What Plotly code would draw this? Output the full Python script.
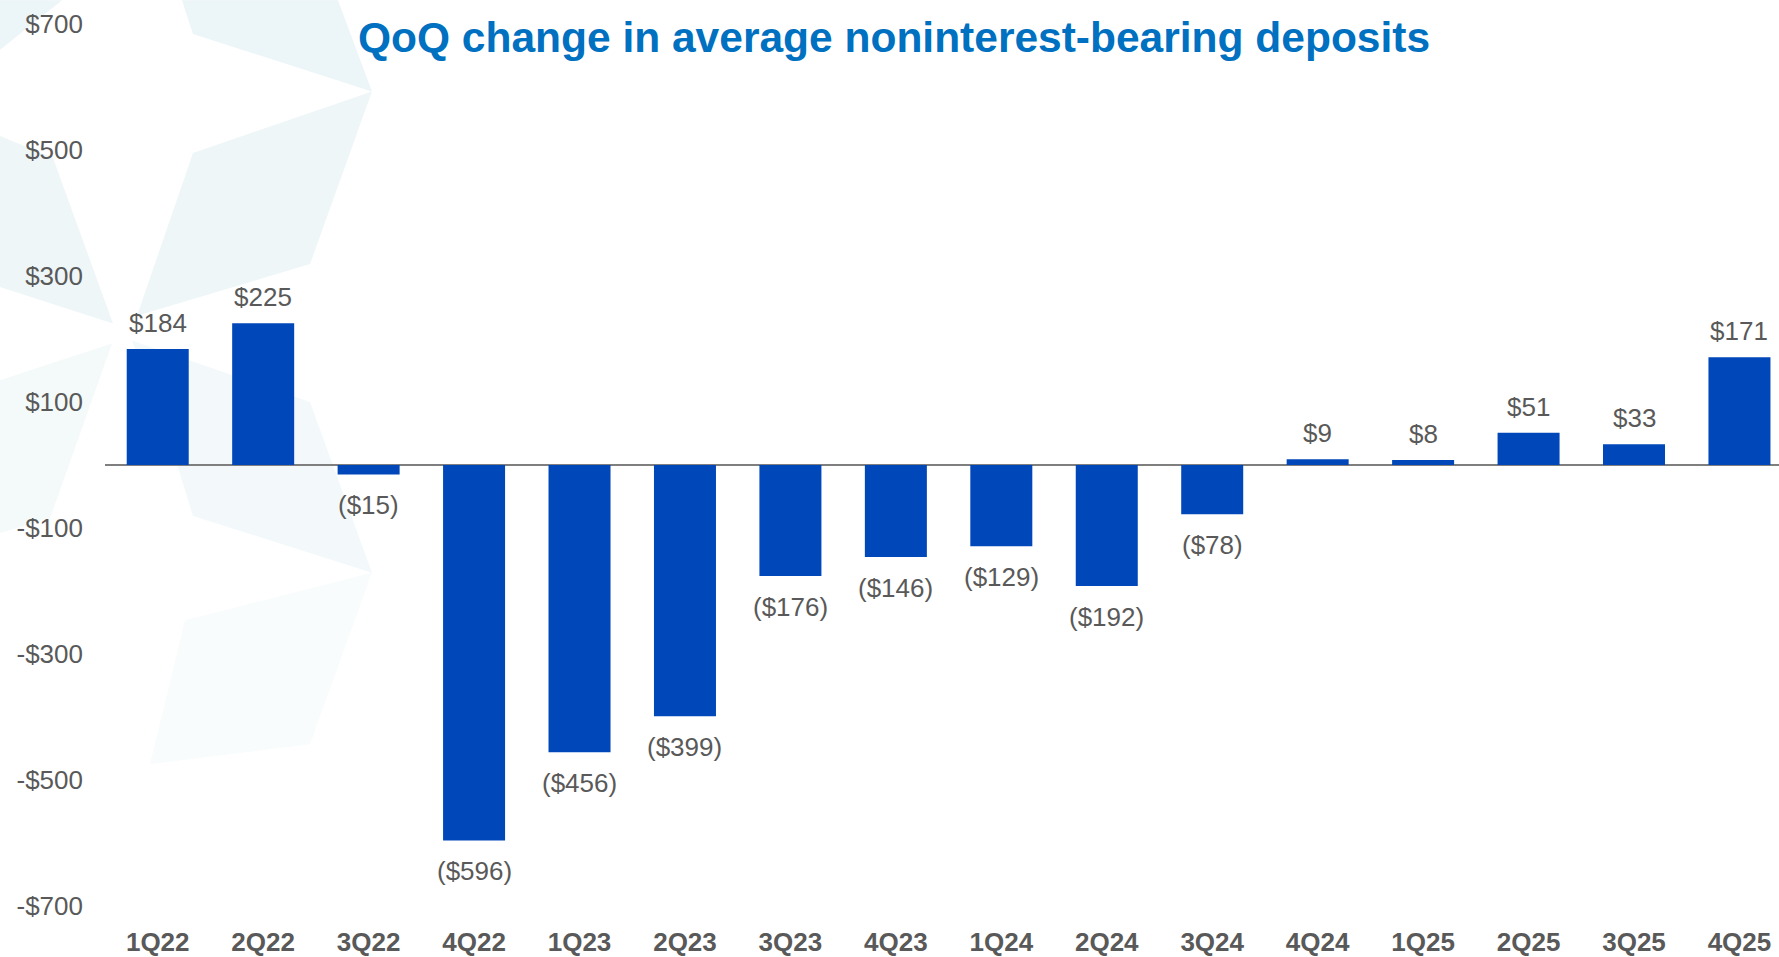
import plotly.graph_objects as go

# ---- data ----
quarters = ["1Q22", "2Q22", "3Q22", "4Q22", "1Q23", "2Q23", "3Q23", "4Q23",
            "1Q24", "2Q24", "3Q24", "4Q24", "1Q25", "2Q25", "3Q25", "4Q25"]
qoq_change = [184, 225, -15, -596, -456, -399, -176, -146,
              -129, -192, -78, 9, 8, 51, 33, 171]
y_tick_vals = [700, 500, 300, 100, -100, -300, -500, -700]
y_tick_text = ["$700", "$500", "$300", "$100", "-$100", "-$300", "-$500", "-$700"]
title_text = "QoQ change in average noninterest-bearing deposits"

# ---- styling ----
W, H = 1779, 957
ML, MR, MT, MB = 105, 0, 24, 44
BAR = "#0047BA"
GRAY = "#595959"
FONT = "Liberation Sans, Arial, sans-serif"


def label(v):
    return f"${v}" if v >= 0 else f"(${-v})"


fig = go.Figure()
fig.add_trace(go.Bar(
    x=list(range(len(quarters))), y=qoq_change,
    marker=dict(color=BAR, line=dict(width=0)),
    width=0.588, hoverinfo="skip",
))

# data labels
for i, v in enumerate(qoq_change):
    fig.add_annotation(
        x=i, y=v, xref="x", yref="y", text=label(v), showarrow=False,
        yshift=26 if v >= 0 else -31, yanchor="middle",
        font=dict(family=FONT, size=26, color=GRAY),
    )

# decorative faint star facets in the top-left (pixel coords -> paper)
pw, ph = W - ML - MR, H - MT - MB


def px2paper(pts):
    return " L ".join(f"{(x - ML) / pw:.5f},{(H - MB - y) / ph:.5f}" for x, y in pts)


facets = [
    ([(0, 0), (62, 0), (0, 50)], "#ECF5F7"),
    ([(182, 0), (338, 0), (372, 92), (193, 34)], "#ECF5F7"),
    ([(193, 154), (372, 92), (310, 266), (137, 318)], "#EEF6F8"),
    ([(0, 137), (53, 159), (113, 326), (0, 289)], "#EEF6F8"),
    ([(132, 343), (310, 405), (372, 577), (193, 520), (177, 468)], "#F3F9FA"),
    ([(0, 383), (112, 346), (50, 522), (0, 537)], "#F4F9FA"),
    ([(372, 577), (310, 750), (150, 770), (185, 625)], "#F9FCFC"),
]
for pts, col in facets:
    fig.add_shape(type="path", xref="paper", yref="paper",
                  path="M " + px2paper(pts) + " Z",
                  fillcolor=col, line=dict(width=0), layer="below")

fig.update_layout(
    width=W, height=H,
    margin=dict(l=ML, r=MR, t=MT, b=MB),
    paper_bgcolor="white", plot_bgcolor="rgba(0,0,0,0)",
    showlegend=False,
    title=dict(text=title_text, x=894 / W, xanchor="center",
               y=1 - 37 / H, yanchor="middle",
               font=dict(family=FONT, size=42.5, color="#0070C0", weight=700)),
    xaxis=dict(range=[-0.5, 15.375], tickvals=list(range(len(quarters))),
               ticktext=quarters, showgrid=False, zeroline=False, showline=False,
               ticks="", ticklabelstandoff=18,
               tickfont=dict(family=FONT, size=26, color=GRAY, weight=700)),
    yaxis=dict(range=[-700, 700], tickvals=y_tick_vals, ticktext=y_tick_text,
               showgrid=False, zeroline=True, zerolinecolor="#7F7F7F",
               zerolinewidth=2, showline=False, ticks="", ticklabelstandoff=21,
               tickfont=dict(family=FONT, size=26, color=GRAY)),
    bargap=0.41,
)

fig.write_html(
    "out.html",
    config={"displayModeBar": False},
    post_script="document.body.style.margin='0';document.body.style.padding='0';"
                "document.body.style.overflow='hidden';",
)
